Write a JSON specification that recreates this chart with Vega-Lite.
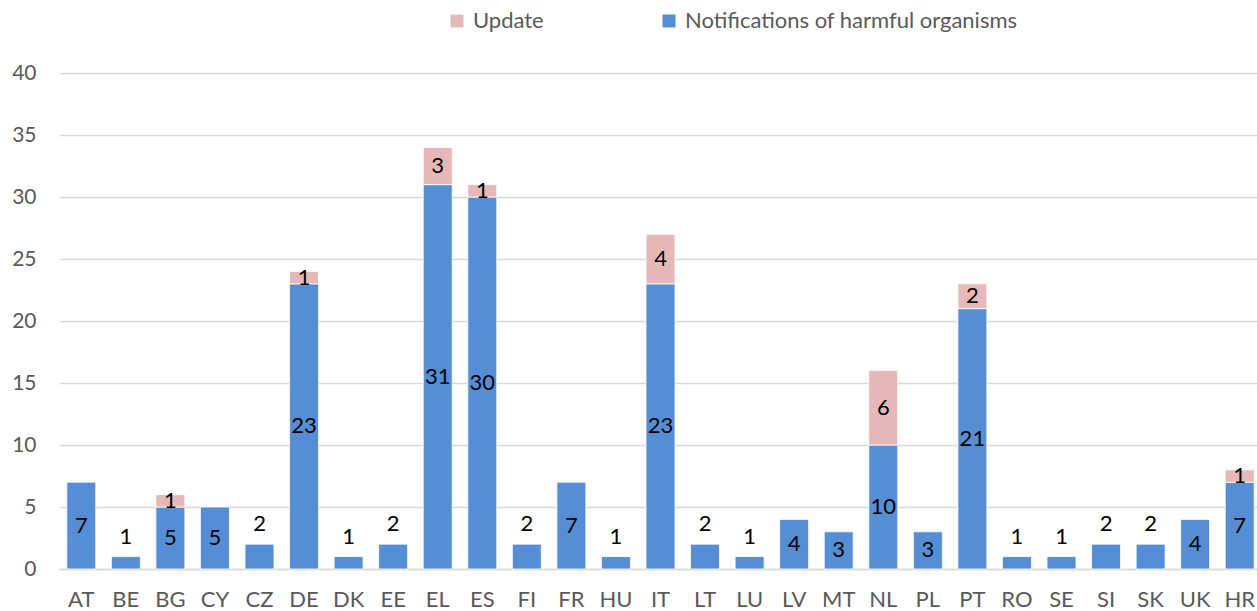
{
  "$schema": "https://vega.github.io/schema/vega-lite/v6.json",
  "autosize": {"type": "none"},
  "width": 1203,
  "height": 496,
  "padding": {"left": 59, "top": 73, "right": 0, "bottom": 42},
  "background": "white",
  "config": {
    "font": "Lato",
    "view": {"stroke": null}
  },
  "data": {
    "values": [
      {"country": "AT", "series": "Notifications of harmful organisms", "value": 7},
      {"country": "BE", "series": "Notifications of harmful organisms", "value": 1},
      {"country": "BG", "series": "Notifications of harmful organisms", "value": 5},
      {"country": "BG", "series": "Update", "value": 1},
      {"country": "CY", "series": "Notifications of harmful organisms", "value": 5},
      {"country": "CZ", "series": "Notifications of harmful organisms", "value": 2},
      {"country": "DE", "series": "Notifications of harmful organisms", "value": 23},
      {"country": "DE", "series": "Update", "value": 1},
      {"country": "DK", "series": "Notifications of harmful organisms", "value": 1},
      {"country": "EE", "series": "Notifications of harmful organisms", "value": 2},
      {"country": "EL", "series": "Notifications of harmful organisms", "value": 31},
      {"country": "EL", "series": "Update", "value": 3},
      {"country": "ES", "series": "Notifications of harmful organisms", "value": 30},
      {"country": "ES", "series": "Update", "value": 1},
      {"country": "FI", "series": "Notifications of harmful organisms", "value": 2},
      {"country": "FR", "series": "Notifications of harmful organisms", "value": 7},
      {"country": "HU", "series": "Notifications of harmful organisms", "value": 1},
      {"country": "IT", "series": "Notifications of harmful organisms", "value": 23},
      {"country": "IT", "series": "Update", "value": 4},
      {"country": "LT", "series": "Notifications of harmful organisms", "value": 2},
      {"country": "LU", "series": "Notifications of harmful organisms", "value": 1},
      {"country": "LV", "series": "Notifications of harmful organisms", "value": 4},
      {"country": "MT", "series": "Notifications of harmful organisms", "value": 3},
      {"country": "NL", "series": "Notifications of harmful organisms", "value": 10},
      {"country": "NL", "series": "Update", "value": 6},
      {"country": "PL", "series": "Notifications of harmful organisms", "value": 3},
      {"country": "PT", "series": "Notifications of harmful organisms", "value": 21},
      {"country": "PT", "series": "Update", "value": 2},
      {"country": "RO", "series": "Notifications of harmful organisms", "value": 1},
      {"country": "SE", "series": "Notifications of harmful organisms", "value": 1},
      {"country": "SI", "series": "Notifications of harmful organisms", "value": 2},
      {"country": "SK", "series": "Notifications of harmful organisms", "value": 2},
      {"country": "UK", "series": "Notifications of harmful organisms", "value": 4},
      {"country": "HR", "series": "Notifications of harmful organisms", "value": 7},
      {"country": "HR", "series": "Update", "value": 1}
    ]
  },
  "encoding": {
    "x": {
      "field": "country",
      "type": "nominal",
      "sort": null,
      "scale": {"paddingInner": 0.35, "paddingOuter": 0.175},
      "axis": {
        "title": null,
        "labelAngle": 0,
        "labelFont": "Lato",
        "labelFontSize": 22,
        "labelColor": "#595959",
        "labelPadding": 20,
        "ticks": false,
        "domain": true,
        "domainColor": "#d9d9d9",
        "domainWidth": 1.5
      }
    }
  },
  "layer": [
    {
      "mark": {"type": "bar", "stroke": "white", "strokeWidth": 0.8},
      "encoding": {
        "y": {
          "field": "value",
          "type": "quantitative",
          "stack": "zero",
          "scale": {"domain": [0, 40], "nice": false},
          "axis": {
            "title": null,
            "values": [0, 5, 10, 15, 20, 25, 30, 35, 40],
            "labelFont": "Lato",
            "labelFontSize": 21,
            "labelColor": "#595959",
            "labelPadding": 23,
            "ticks": false,
            "domain": false,
            "gridColor": "#d9d9d9",
            "gridWidth": 1.5
          }
        },
        "color": {
          "field": "series",
          "type": "nominal",
          "scale": {
            "domain": ["Update", "Notifications of harmful organisms"],
            "range": ["#e6b9b8", "#558ed5"]
          },
          "legend": {
            "title": null,
            "orient": "none",
            "direction": "horizontal",
            "legendX": 387,
            "legendY": -63,
            "symbolType": "square",
            "symbolSize": 169,
            "symbolStrokeWidth": 0,
            "labelFont": "Lato",
            "labelFontSize": 22,
            "labelColor": "#595959",
            "labelOffset": 5,
            "columnPadding": 114,
            "labelLimit": 600
          }
        },
        "order": {"field": "series", "sort": "ascending"}
      }
    },
    {
      "mark": {"type": "text", "font": "Lato", "fontSize": 22, "color": "black", "baseline": "middle"},
      "encoding": {
        "y": {"field": "value", "type": "quantitative", "stack": "zero", "bandPosition": 0.5},
        "detail": {"field": "series"},
        "order": {"field": "series", "sort": "ascending"},
        "text": {
          "condition": {"test": "datum.series === 'Notifications of harmful organisms' && datum.value <= 2", "value": ""},
          "field": "value",
          "type": "quantitative"
        }
      }
    },
    {
      "transform": [
        {"filter": "datum.series === 'Notifications of harmful organisms' && datum.value <= 2"}
      ],
      "mark": {"type": "text", "font": "Lato", "fontSize": 22, "color": "black", "baseline": "alphabetic", "dy": -13},
      "encoding": {
        "y": {"field": "value", "type": "quantitative"},
        "text": {"field": "value", "type": "quantitative"}
      }
    }
  ]
}
